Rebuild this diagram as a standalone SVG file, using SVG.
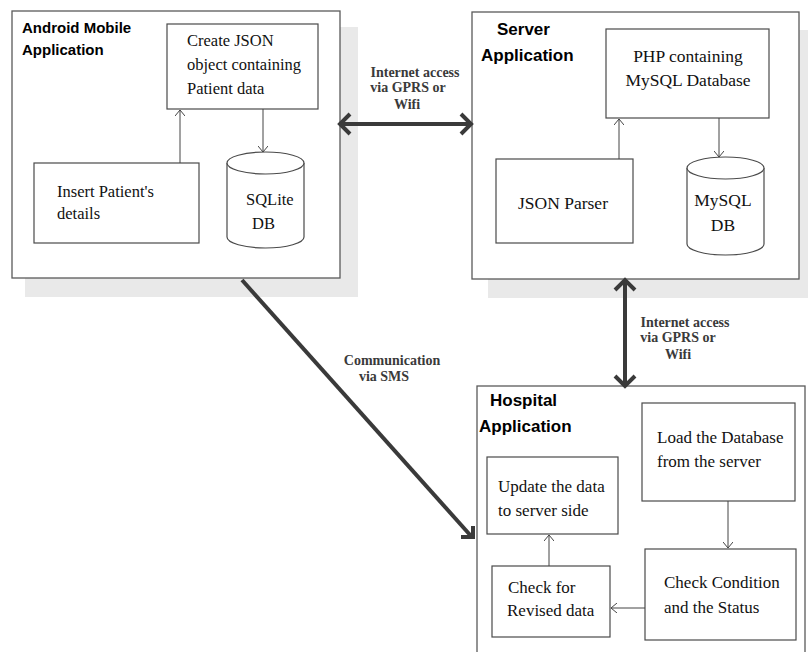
<svg xmlns="http://www.w3.org/2000/svg" width="808" height="652" viewBox="0 0 808 652">
<style>
.shadow{fill:#e9e9e9;stroke:none}
.outer{fill:#fff;stroke:#5a5a5a;stroke-width:1.3}
.box{fill:#fff;stroke:#4a4a4a;stroke-width:1.2}
.title{font-family:"Liberation Sans",Arial,sans-serif;font-weight:bold;fill:#000}
.t{font-family:"Liberation Serif","Times New Roman",serif;font-size:16.5px;fill:#111}
.ts{font-size:17.5px}
.th{font-size:17px}
.lbl{font-family:"Liberation Serif","Times New Roman",serif;font-size:14px;font-weight:bold;fill:#3a3a3a;text-anchor:middle}
.thin{fill:none;stroke:#444;stroke-width:1;marker-end:url(#a)}
.thick{fill:none;stroke:#3a3a3a;stroke-width:4}
</style>
<defs>
<marker id="a" markerUnits="userSpaceOnUse" viewBox="0 0 6 10" markerWidth="6" markerHeight="10" refX="6" refY="5" orient="auto">
<path d="M0,0 L6,5 L0,10" fill="none" stroke="#444" stroke-width="1"/>
</marker>
</defs>
<rect x="0" y="0" width="808" height="652" fill="#fff"/>
<g id="android">
<rect class="shadow" x="25" y="27" width="333" height="270"/>
<rect class="outer" x="12" y="11" width="328" height="267"/>
<text class="title" font-size="15" x="22" y="33">Android Mobile</text>
<text class="title" font-size="15" x="22" y="55">Application</text>
</g>
<g id="create-json">
<rect class="box" x="167" y="24" width="151" height="85"/>
<text class="t" x="187" y="46">Create JSON</text>
<text class="t" x="187" y="70">object containing</text>
<text class="t" x="187" y="94">Patient data</text>
</g>
<g id="insert">
<rect class="box" x="34" y="163" width="165" height="80"/>
<text class="t" x="57" y="197">Insert Patient's</text>
<text class="t" x="57" y="219">details</text>
</g>
<g id="sqlite">
<path class="box" d="M227,163 a38.5,11 0 0 1 77,0 v74 a38.5,11 0 0 1 -77,0 z"/>
<path class="box" d="M227,163 a38.5,11 0 0 0 77,0" fill="none"/>
<text class="t" x="246" y="205">SQLite</text>
<text class="t" x="252" y="229">DB</text>
</g>
<g id="server">
<rect class="shadow" x="488" y="30" width="320" height="268"/>
<rect class="outer" x="472" y="12" width="327" height="267"/>
<text class="title" font-size="17" x="497" y="35">Server</text>
<text class="title" font-size="17" x="481" y="61">Application</text>
</g>
<g id="php">
<rect class="box" x="606" y="29" width="163" height="89"/>
<text class="t ts" x="688" y="62" text-anchor="middle">PHP containing</text>
<text class="t ts" x="688" y="86" text-anchor="middle">MySQL Database</text>
</g>
<g id="json-parser">
<rect class="box" x="496" y="159" width="137" height="84"/>
<text class="t ts" x="563" y="209" text-anchor="middle">JSON Parser</text>
</g>
<g id="mysql">
<path class="box" d="M687,168 a38.5,11 0 0 1 77,0 v76 a38.5,11 0 0 1 -77,0 z"/>
<path class="box" d="M687,168 a38.5,11 0 0 0 77,0" fill="none"/>
<text class="t ts" x="723" y="206" text-anchor="middle">MySQL</text>
<text class="t ts" x="723" y="231" text-anchor="middle">DB</text>
</g>
<g id="hospital">
<rect class="outer" x="477" y="386" width="328" height="280"/>
<text class="title" font-size="17" x="490" y="406">Hospital</text>
<text class="title" font-size="17" x="479" y="432">Application</text>
</g>
<g id="load">
<rect class="box" x="642" y="403" width="153" height="98"/>
<text class="t th" x="657" y="443">Load the Database</text>
<text class="t th" x="657" y="467">from the server</text>
</g>
<g id="update">
<rect class="box" x="487" y="457" width="131" height="77"/>
<text class="t th" x="498" y="492">Update the data</text>
<text class="t th" x="498" y="516">to server side</text>
</g>
<g id="check-condition">
<rect class="box" x="645" y="549" width="151" height="91"/>
<text class="t th" x="664" y="588">Check Condition</text>
<text class="t th" x="664" y="613">and the Status</text>
</g>
<g id="check-revised">
<rect class="box" x="492" y="566" width="118" height="71"/>
<text class="t th" x="508" y="593">Check for</text>
<text class="t th" x="507" y="616">Revised data</text>
</g>
<g id="connectors">
<path class="thin" d="M180,163 V110"/>
<path class="thin" d="M263,109 V152"/>
<path class="thin" d="M619,159 V119"/>
<path class="thin" d="M719,118 V157"/>
<path class="thin" d="M728,501 V548"/>
<path class="thin" d="M645,608 H611"/>
<path class="thin" d="M549,566 V535"/>
<path class="thick" d="M340,124 H471"/>
<path class="thick" d="M350,114 L340,124 L350,134"/>
<path class="thick" d="M461,114 L471,124 L461,134"/>
<path class="thick" d="M625,280 V386"/>
<path class="thick" d="M615,290 L625,280 L635,290"/>
<path class="thick" d="M615,376 L625,386 L635,376"/>
<path class="thick" d="M242,280 L471,536"/>
<path class="thick" d="M461,537 H473 V526"/>
<text class="lbl" x="415" y="77">Internet access</text>
<text class="lbl" x="408" y="92">via GPRS or</text>
<text class="lbl" x="407" y="109">Wifi</text>
<text class="lbl" x="685" y="327">Internet access</text>
<text class="lbl" x="678" y="342">via GPRS or</text>
<text class="lbl" x="678" y="359">Wifi</text>
<text class="lbl" x="392" y="365">Communication</text>
<text class="lbl" x="384" y="381">via SMS</text>
</g>
</svg>
